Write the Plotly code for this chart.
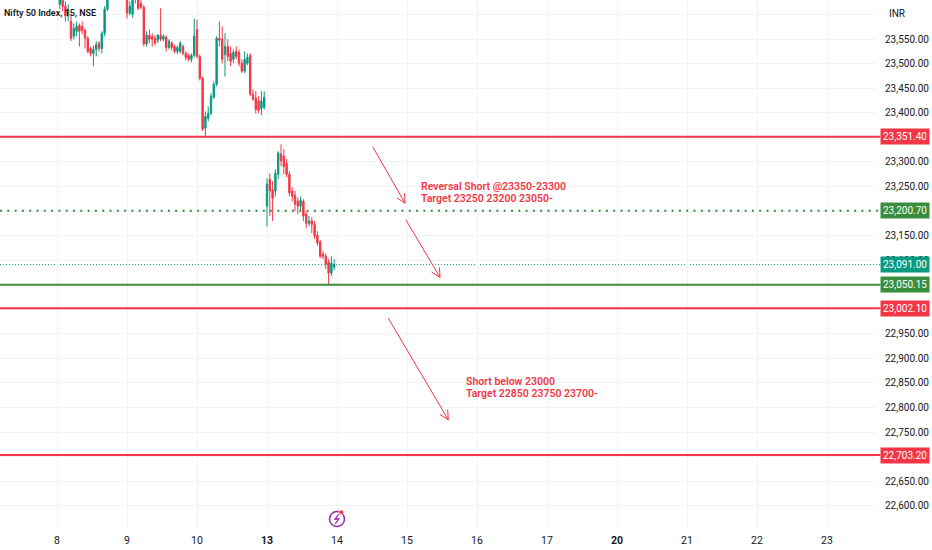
import math
import plotly.graph_objects as go

# ---------------- data (15-min bars, index 0 = 8th 09:15) ----------------
bar_index = list(range(0, 19)) + list(range(25, 100))

open_ = [23668, 23621, 23643, 23617, 23597, 23586, 23556, 23566, 23578, 23576,
         23568, 23552, 23531, 23521, 23529, 23542, 23531, 23562, 23611,
         # day 9
         23637, 23603, 23601, 23643, 23631, 23623, 23615, 23540, 23558, 23556,
         23552, 23548, 23558, 23550, 23554, 23533, 23542, 23535, 23525, 23525,
         23535, 23521, 23517, 23509, 23517,
         # day 10
         23570, 23515, 23470, 23369, 23389, 23399, 23432, 23458, 23552, 23550,
         23519, 23535, 23521, 23509, 23525, 23523, 23501, 23485, 23501, 23517,
         23438, 23430, 23424, 23409, 23411,
         # day 13
         23210, 23265, 23243, 23241, 23275, 23316, 23312, 23297, 23275, 23241,
         23232, 23220, 23210, 23220, 23194, 23175, 23180, 23173, 23151, 23137,
         23112, 23108, 23096, 23074, 23086]
high = [23688, 23668, 23658, 23627, 23621, 23601, 23582, 23586, 23582, 23586,
        23572, 23556, 23535, 23537, 23546, 23546, 23566, 23617, 23668,
        23647, 23627, 23647, 23658, 23643, 23637, 23619, 23566, 23570, 23562,
        23558, 23560, 23613, 23560, 23558, 23550, 23546, 23539, 23537, 23546,
        23539, 23525, 23521, 23521, 23592,
        23590, 23519, 23474, 23403, 23413, 23440, 23464, 23556, 23586, 23576,
        23562, 23550, 23535, 23529, 23535, 23529, 23509, 23525, 23521, 23521,
        23448, 23444, 23434, 23444, 23444,
        23267, 23277, 23261, 23285, 23322, 23336, 23326, 23306, 23281, 23249,
        23241, 23228, 23230, 23224, 23200, 23190, 23188, 23180, 23159, 23141,
        23119, 23114, 23102, 23108, 23102]
low = [23637, 23611, 23607, 23586, 23586, 23546, 23550, 23556, 23535, 23560,
       23531, 23521, 23515, 23495, 23515, 23525, 23521, 23556, 23607,
       23592, 23599, 23594, 23623, 23609, 23611, 23535, 23535, 23542, 23535,
       23537, 23542, 23546, 23546, 23525, 23529, 23527, 23521, 23519, 23521,
       23517, 23507, 23505, 23503, 23513,
       23511, 23466, 23363, 23351.4, 23383, 23395, 23428, 23454, 23535, 23501,
       23474, 23505, 23495, 23501, 23509, 23495, 23481, 23481, 23497, 23434,
       23424, 23399, 23399, 23395, 23407,
       23169, 23190, 23180, 23230, 23265, 23291, 23275, 23269, 23230, 23220,
       23200, 23194, 23200, 23180, 23165, 23169, 23155, 23143, 23129, 23104,
       23102, 23082, 23050.15, 23068, 23080]
close = [23647, 23647, 23617, 23597, 23611, 23552, 23572, 23576, 23566, 23568,
         23552, 23525, 23521, 23529, 23539, 23531, 23562, 23611, 23647,
         23603, 23617, 23633, 23631, 23613, 23615, 23540, 23558, 23550, 23550,
         23542, 23558, 23550, 23556, 23533, 23546, 23533, 23525, 23533, 23542,
         23521, 23513, 23509, 23517, 23556,
         23515, 23470, 23367, 23393, 23399, 23434, 23458, 23552, 23548, 23509,
         23535, 23515, 23505, 23523, 23515, 23501, 23485, 23509, 23513, 23438,
         23428, 23407, 23405, 23424, 23432,
         23255, 23241, 23226, 23277, 23318, 23302, 23291, 23275, 23237, 23230,
         23214, 23210, 23222, 23190, 23175, 23180, 23173, 23149, 23135, 23108,
         23108, 23092, 23074, 23094, 23091]

day_tick_index = [0, 25, 50, 75, 100, 125, 150, 175, 200, 225, 250, 275]
day_tick_label = ["8", "9", "10", "<b>13</b>", "14", "15", "16", "17", "<b>20</b>", "21", "22", "23"]

price_ticks = [22600 + 50 * k for k in range(21)]
hidden_price_labels = [23600, 23350, 23200, 23050, 23000, 22700]

red_levels = [23351.40, 23002.10, 22703.20]
green_level = 23050.15
green_dotted_level = 23200.70
last_close = 23091.00

arrows = [((112.75, 23331), (124.3, 23216)),
          ((124.6, 23182), (136.8, 23065)),
          ((118.3, 22982), (139.75, 22775))]

notes = [((129.3, 23251), ["Reversal Short @23350-23300", "Target 23250 23200 23050-"]),
         ((145.4, 22854), ["Short below 23000", "Target 22850 23750 23700-"])]

# ---------------- styling ----------------
UP = "#089981"
DOWN = "#F23645"
GREEN = "#388E3C"
TXT = "#131722"
GRID = "#F0F3FA"
PURPLE = "#9C27B0"
FONT = "Roboto"

W, H = 932, 550
ML, MR, MT, MB = 0, 56, 0, 22
PW, PH = W - ML - MR, H - MT - MB
xr = [-20.36, 292.5]
yr = [22554.7, 23629.8]

fig = go.Figure()
fig.add_trace(go.Candlestick(
    x=bar_index, open=open_, high=high, low=low, close=close,
    increasing=dict(line=dict(color=UP, width=1), fillcolor=UP),
    decreasing=dict(line=dict(color=DOWN, width=1), fillcolor=DOWN),
    whiskerwidth=0, hoverinfo="skip", showlegend=False))

shapes = []
for lv in red_levels:
    shapes.append(dict(type="line", xref="paper", x0=0, x1=1.005, yref="y", y0=lv, y1=lv,
                       line=dict(color=DOWN, width=2), layer="above"))
shapes.append(dict(type="line", xref="paper", x0=0, x1=1.005, yref="y", y0=green_level, y1=green_level,
                   line=dict(color=GREEN, width=2), layer="above"))
shapes.append(dict(type="line", xref="paper", x0=0, x1=1.005, yref="y", y0=green_dotted_level,
                   y1=green_dotted_level, line=dict(color=GREEN, width=2, dash="2px,5.3px"), layer="above"))
shapes.append(dict(type="line", xref="paper", x0=0, x1=1.005, yref="y", y0=last_close, y1=last_close,
                   line=dict(color=UP, width=1, dash="1px,2px"), layer="below"))

# arrows with open V heads
sx = PW / (xr[1] - xr[0])
sy = PH / (yr[1] - yr[0])
for (x0, y0), (x1, y1) in arrows:
    shapes.append(dict(type="line", xref="x", yref="y", x0=x0, y0=y0, x1=x1, y1=y1,
                       line=dict(color=DOWN, width=1)))
    dx, dy = (x0 - x1) * sx, (y0 - y1) * sy
    n = math.hypot(dx, dy)
    bx, by = dx / n, dy / n
    for ang in (math.radians(27), math.radians(-27)):
        rx = bx * math.cos(ang) - by * math.sin(ang)
        ry = bx * math.sin(ang) + by * math.cos(ang)
        L = 10
        shapes.append(dict(type="line", xref="x", yref="y", x0=x1, y0=y1,
                           x1=x1 + L * rx / sx, y1=y1 + L * ry / sy,
                           line=dict(color=DOWN, width=1)))

# lightning icon near next session label
icon_y = 1 - (519 - MT) / PH
shapes.append(dict(type="circle", xref="x", xsizemode="pixel", xanchor=100, x0=-7.5, x1=7.5,
                   yref="paper", ysizemode="pixel", yanchor=icon_y, y0=-7.5, y1=7.5,
                   line=dict(color=PURPLE, width=1.5), fillcolor="white"))
shapes.append(dict(type="path", xref="x", xsizemode="pixel", xanchor=100,
                   yref="paper", ysizemode="pixel", yanchor=icon_y,
                   path="M 1.8 5 L -1.8 -0.2 L 1.8 0.2 L -1.8 -5",
                   line=dict(color=PURPLE, width=1.3)))
shapes.append(dict(type="circle", xref="x", xsizemode="pixel", xanchor=100, x0=2, x1=6.5,
                   yref="paper", ysizemode="pixel", yanchor=icon_y, y0=4.5, y1=9,
                   line=dict(color="white", width=0.5), fillcolor=DOWN))

annotations = []
annotations.append(dict(xref="paper", yref="paper", x=0.002, y=1 - 13 / PH, xanchor="left", yanchor="middle",
                        text="Nifty 50 Index, 15, NSE", showarrow=False,
                        font=dict(family=FONT, size=9, color=TXT, weight=600)))
annotations.append(dict(xref="paper", yref="paper", x=887 / PW, y=1 - 13 / PH, xanchor="left", yanchor="middle",
                        text="INR", showarrow=False, font=dict(family=FONT, size=10, color=TXT)))

for (nx, ny), lines in notes:
    for k, t in enumerate(lines):
        annotations.append(dict(xref="x", yref="y", x=nx, y=ny, xanchor="left", yanchor="middle", align="left",
                                text=t, showarrow=False, yshift=-12 * k,
                                font=dict(family=FONT, size=10.5, color=DOWN, weight=600)))

boxes = [(v, DOWN) for v in red_levels] + [(green_dotted_level, GREEN), (green_level, GREEN), (last_close, UP)]
for v, c in boxes:
    annotations.append(dict(xref="paper", yref="y", x=880 / PW, y=v, xanchor="left", yanchor="middle",
                            text=f"{v:,.2f}", showarrow=False, bgcolor=c, borderpad=2,
                            font=dict(family=FONT, size=10, color="white")))

fig.update_layout(
    width=W, height=H, margin=dict(l=ML, r=MR, t=MT, b=MB),
    paper_bgcolor="white", plot_bgcolor="white",
    shapes=shapes, annotations=annotations, showlegend=False,
    xaxis=dict(range=xr, tickvals=day_tick_index, ticktext=day_tick_label, showgrid=True,
               gridcolor=GRID, zeroline=False, showline=False, ticks="", ticklabelstandoff=4,
               rangeslider=dict(visible=False), tickfont=dict(family=FONT, size=10.5, color=TXT),
               fixedrange=True),
    yaxis=dict(range=yr, side="right", tickvals=price_ticks,
               ticktext=["" if p in hidden_price_labels else f"{p:,.2f}" for p in price_ticks],
               showgrid=True, gridcolor=GRID, zeroline=False, showline=False, ticks="",
               ticklabelstandoff=8, tickfont=dict(family=FONT, size=10, color=TXT), fixedrange=True),
)

fig.write_html("out.html", config={"displayModeBar": False},
               post_script="document.body.style.margin='0px';document.body.style.overflow='hidden';")
